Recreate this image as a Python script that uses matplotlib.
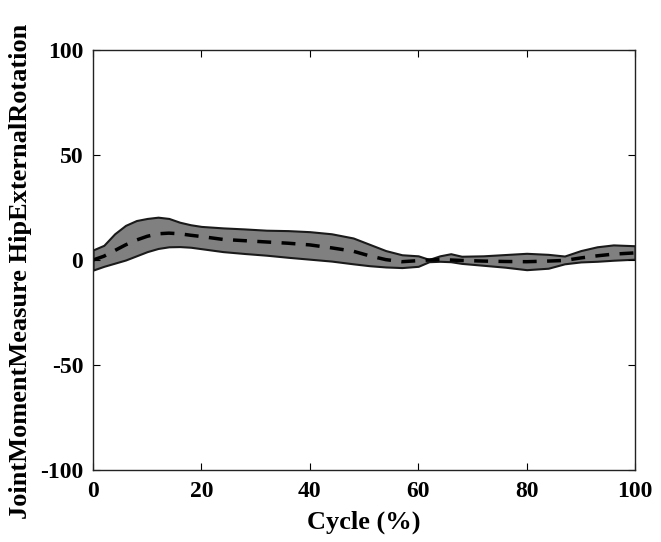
import matplotlib
matplotlib.use('Agg')
import matplotlib.pyplot as plt

# Datos (ciclo en %)
cycle = [0, 2, 4, 6, 8, 10, 12, 14, 16, 18, 20, 24, 28, 32, 36, 40, 44, 48, 51, 54,
         57, 60, 62, 64, 66, 68, 72, 76, 80, 84, 87, 90, 93, 96, 100]
upper = [4.8, 7, 12.5, 16.5, 18.8, 19.8, 20.4, 19.8, 18, 16.8, 16, 15.3, 14.8, 14.2, 14, 13.5,
         12.5, 10.5, 7.5, 4.5, 2.5, 2, 0.3, 2, 3, 1.8, 2, 2.6, 3.2, 2.7, 1.9, 4.5, 6.3, 7.2, 6.8]
lower = [-4.8, -3, -1.5, 0, 2, 4, 5.5, 6.3, 6.4, 6.1, 5.4, 4, 3.1, 2.3, 1.3, 0.4, -0.5, -1.8,
         -2.7, -3.3, -3.6, -3, -0.8, -0.6, -0.8, -1.6, -2.5, -3.4, -4.6, -3.9, -1.8, -0.9, -0.6,
         -0.1, 0.4]
mean = [0, 1.8, 4.5, 7.2, 9.5, 11.3, 12.5, 12.8, 12.5, 11.8, 11.2, 9.8, 9.2, 8.6, 8, 7.2, 5.8,
        4.2, 2, 0.2, -0.8, -0.3, 0, 0.2, 0, -0.2, -0.5, -0.7, -0.8, -0.5, -0.2, 1, 2, 2.8, 3.4]

xticks = [0, 20, 40, 60, 80, 100]
yticks = [-100, -50, 0, 50, 100]

plt.rcParams['font.family'] = ['Liberation Serif', 'DejaVu Serif']
plt.rcParams['font.weight'] = 'bold'
plt.rcParams['axes.unicode_minus'] = False

fig = plt.figure(figsize=(6.61, 5.42), dpi=100)
ax = fig.add_axes([0.1407, 0.1328, 0.8200, 0.7749])

ax.fill_between(cycle, lower, upper, facecolor='#808080', edgecolor='#1a1a1a', linewidth=1.5)
ax.plot(cycle, mean, color='black', linestyle='--', linewidth=2.5, dashes=(4, 3))

ax.set_xlim(0, 100)
ax.set_ylim(-100, 100)
ax.set_xticks(xticks)
ax.set_yticks(yticks)
ax.tick_params(direction='in', top=True, right=True, length=5, width=0.8, labelsize=17)
ax.tick_params(axis='x', pad=8)
ax.tick_params(axis='y', pad=7)
for lbl in ax.get_xticklabels() + ax.get_yticklabels():
    lbl.set_fontweight('bold')
for s in ax.spines.values():
    s.set_linewidth(1.0)
    s.set_color('#222222')

ax.set_xlabel('Cycle (%)', fontsize=19, fontweight='bold', labelpad=6)
ax.set_ylabel('JointMomentMeasure HipExternalRotation', fontsize=19, fontweight='bold')
ax.yaxis.set_label_coords(-0.112, 0.472)

fig.savefig('out.png', dpi=100)
plt.close(fig)
